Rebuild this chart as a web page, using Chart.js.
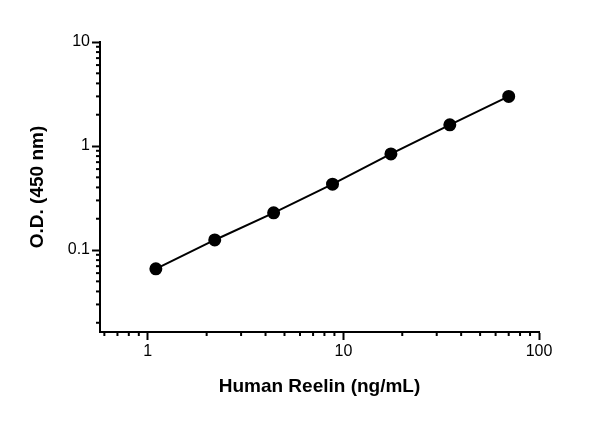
<!DOCTYPE html>
<html><head><script src="https://cdn.jsdelivr.net/npm/chart.js@4"></script>
<style>body{margin:0;background:#fff}#w{width:600px;height:422px}</style></head>
<body><div id="w"><canvas id="c"></canvas></div>
<script>
const xValues=[1.1,2.2,4.4,8.8,17.5,35,70];
const yValues=[0.066,0.125,0.228,0.43,0.84,1.6,3.0];
const xTicks=[0.6,0.7,0.8,0.9,1,2,3,4,5,6,7,8,9,10,20,30,40,50,60,70,80,90,100];
const xLabels={1:'1',10:'10',100:'100'};
const yTicks=[0.02,0.03,0.04,0.05,0.06,0.07,0.08,0.09,0.1,0.2,0.3,0.4,0.5,0.6,0.7,0.8,0.9,1,2,3,4,5,6,7,8,9,10];
const yLabels={0.1:'0.1',1:'1',10:'10'};
const font={family:'Liberation Sans',size:16};
const tfont={family:'Liberation Sans',size:19,weight:'bold'};
const minorTicks={id:'minorTicks',afterDraw(ch){
 const c=ch.ctx;c.save();c.strokeStyle='#000';c.lineWidth=2;
 const xs=ch.scales.x,ys=ch.scales.y;
 xTicks.filter(v=>!xLabels[v]).forEach(v=>{const p=xs.getPixelForValue(v);c.beginPath();c.moveTo(p,xs.top);c.lineTo(p,xs.top+4);c.stroke();});
 yTicks.filter(v=>!yLabels[v]).forEach(v=>{const p=ys.getPixelForValue(v);c.beginPath();c.moveTo(ys.right,p);c.lineTo(ys.right-4,p);c.stroke();});
 c.restore();}};
new Chart(document.getElementById('c'),{type:'scatter',
data:{datasets:[{data:xValues.map((x,i)=>({x,y:yValues[i]})),showLine:true,borderColor:'#000',backgroundColor:'#000',borderWidth:2,pointRadius:5.5,pointHoverRadius:5.5}]},
options:{responsive:true,maintainAspectRatio:false,animation:false,
layout:{padding:{left:22,right:61,top:42,bottom:20}},
plugins:{legend:{display:false},tooltip:{enabled:false}},
scales:{
x:{type:'logarithmic',min:0.57,max:100,
 afterBuildTicks:s=>{s.ticks=xTicks.map(v=>({value:v}))},
 afterFit:s=>{s.height=422-332-20},
 ticks:{autoSkip:false,maxRotation:0,color:'#000',font,padding:2,callback:v=>xLabels[v]||''},
 grid:{drawOnChartArea:false,tickColor:c=>xLabels[c.tick&&c.tick.value]?'#000':'rgba(0,0,0,0)',tickLength:8,tickWidth:2},border:{color:'#000',width:2},
 title:{display:true,text:'Human Reelin (ng/mL)',color:'#000',font:tfont,padding:{top:0}}},
y:{type:'logarithmic',min:0.0163,max:10,
 afterBuildTicks:s=>{s.ticks=yTicks.map(v=>({value:v}))},
 afterFit:s=>{s.width=100-22},
 ticks:{autoSkip:false,color:'#000',font,padding:2,callback:v=>yLabels[v]||''},
 grid:{drawOnChartArea:false,tickColor:c=>yLabels[c.tick&&c.tick.value]?'#000':'rgba(0,0,0,0)',tickLength:8,tickWidth:2},border:{color:'#000',width:2},
 title:{display:true,text:'O.D. (450 nm)',color:'#000',font:tfont,padding:{bottom:4}}}
}},plugins:[minorTicks]});
</script></body></html>
